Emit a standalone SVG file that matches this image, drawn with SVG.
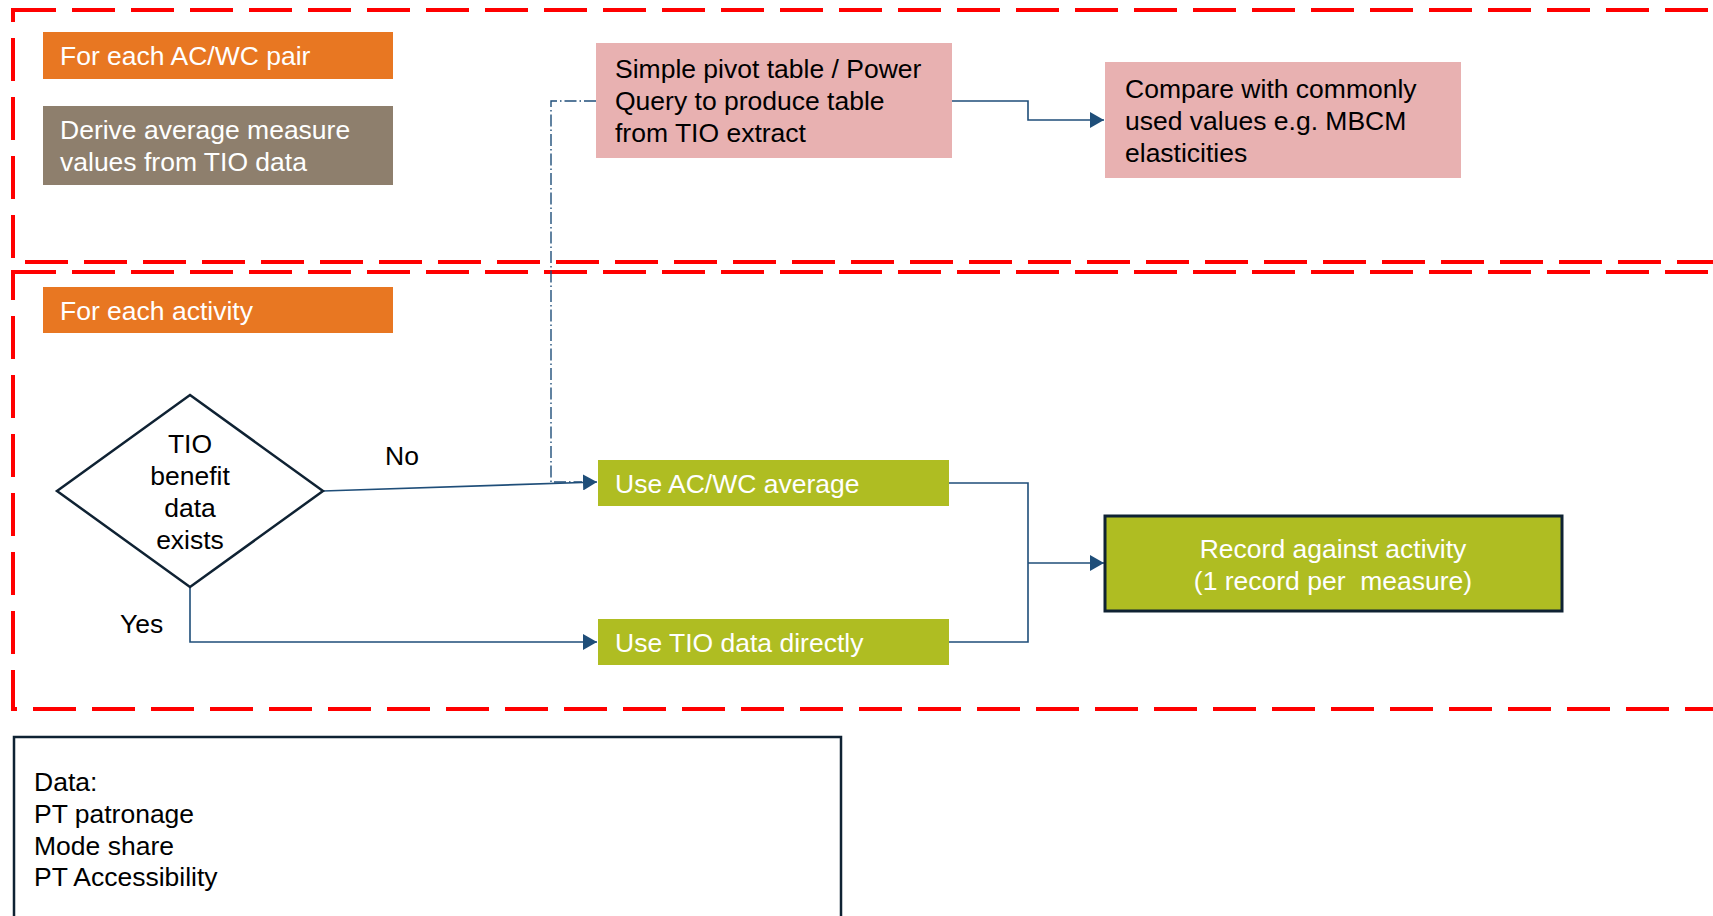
<svg xmlns="http://www.w3.org/2000/svg" width="1713" height="916" viewBox="0 0 1713 916">
<style>
text{font-family:"Liberation Sans",Arial,sans-serif;font-size:26.5px}
.w{fill:#ffffff}
.b{fill:#000000}
.region{fill:none;stroke:#ff0000;stroke-width:4;stroke-dasharray:43 16}
.conn{fill:none;stroke:#1f4e79;stroke-width:1.6}
.dd{fill:none;stroke:#1f4e79;stroke-width:1.4;stroke-dasharray:12 3 1.5 3}
</style>
<defs>
<marker id="arr" markerUnits="userSpaceOnUse" markerWidth="16" markerHeight="16" refX="14" refY="8" orient="auto">
<path d="M0,0 L14,8 L0,16 z" fill="#1f4e79"/>
</marker>
</defs>
<rect width="1713" height="916" fill="#ffffff"/>
<g id="region-top"><rect class="region" x="13" y="10" width="1760" height="252"/></g>
<g id="region-bottom"><rect class="region" x="13" y="272" width="1760" height="437"/></g>
<g id="connectors">
<path class="dd" d="M596,101 H551 V482 H582"/>
<path class="conn" d="M323,491 L597,482" marker-end="url(#arr)"/>
<path class="conn" d="M190,587 V642 H597" marker-end="url(#arr)"/>
<path class="conn" d="M952,101 H1028 V120 H1104" marker-end="url(#arr)"/>
<path class="conn" d="M949,483 H1028 V642 H949"/>
<path class="conn" d="M1028,563 H1104" marker-end="url(#arr)"/>
</g>
<g id="for-each-pair"><rect x="43" y="32" width="350" height="47" fill="#e87722"/><text class="w" x="60" y="65">For each AC/WC pair</text></g>
<g id="derive-average"><rect x="43" y="106" width="350" height="79" fill="#8e7f6d"/><text class="w" x="60" y="139">Derive average measure</text><text class="w" x="60" y="171">values from TIO data</text></g>
<g id="pivot-table"><rect x="596" y="43" width="356" height="115" fill="#e8b1b1"/><text class="b" x="615" y="78">Simple pivot table / Power</text><text class="b" x="615" y="110">Query to produce table</text><text class="b" x="615" y="142">from TIO extract</text></g>
<g id="compare"><rect x="1105" y="62" width="356" height="116" fill="#e8b1b1"/><text class="b" x="1125" y="98">Compare with commonly</text><text class="b" x="1125" y="130">used values e.g. MBCM</text><text class="b" x="1125" y="162">elasticities</text></g>
<g id="for-each-activity"><rect x="43" y="287" width="350" height="46" fill="#e87722"/><text class="w" x="60" y="320">For each activity</text></g>
<g id="decision"><path d="M190,395 L323,491 L190,587 L57,491 Z" fill="#ffffff" stroke="#0f2233" stroke-width="2.5"/>
<text class="b" x="190" y="453" text-anchor="middle">TIO</text><text class="b" x="190" y="485" text-anchor="middle">benefit</text><text class="b" x="190" y="517" text-anchor="middle">data</text><text class="b" x="190" y="549" text-anchor="middle">exists</text></g>
<g id="label-no"><text class="b" x="385" y="465">No</text></g>
<g id="label-yes"><text class="b" x="120" y="633">Yes</text></g>
<g id="use-average"><rect x="598" y="460" width="351" height="46" fill="#afbd22"/><text class="w" x="615" y="493">Use AC/WC average</text></g>
<g id="use-tio"><rect x="598" y="619" width="351" height="46" fill="#afbd22"/><text class="w" x="615" y="652">Use TIO data directly</text></g>
<g id="record"><rect x="1105" y="516" width="457" height="95" fill="#afbd22" stroke="#0f2233" stroke-width="3"/><text class="w" x="1333" y="558" text-anchor="middle">Record against activity</text><text class="w" x="1333" y="590" text-anchor="middle" xml:space="preserve">(1 record per  measure)</text></g>
<g id="data-box"><rect x="14" y="737" width="827" height="200" fill="#ffffff" stroke="#0f2233" stroke-width="2.5"/>
<text class="b" x="34" y="791">Data:</text><text class="b" x="34" y="823">PT patronage</text><text class="b" x="34" y="855">Mode share</text><text class="b" x="34" y="886">PT Accessibility</text></g>
</svg>
